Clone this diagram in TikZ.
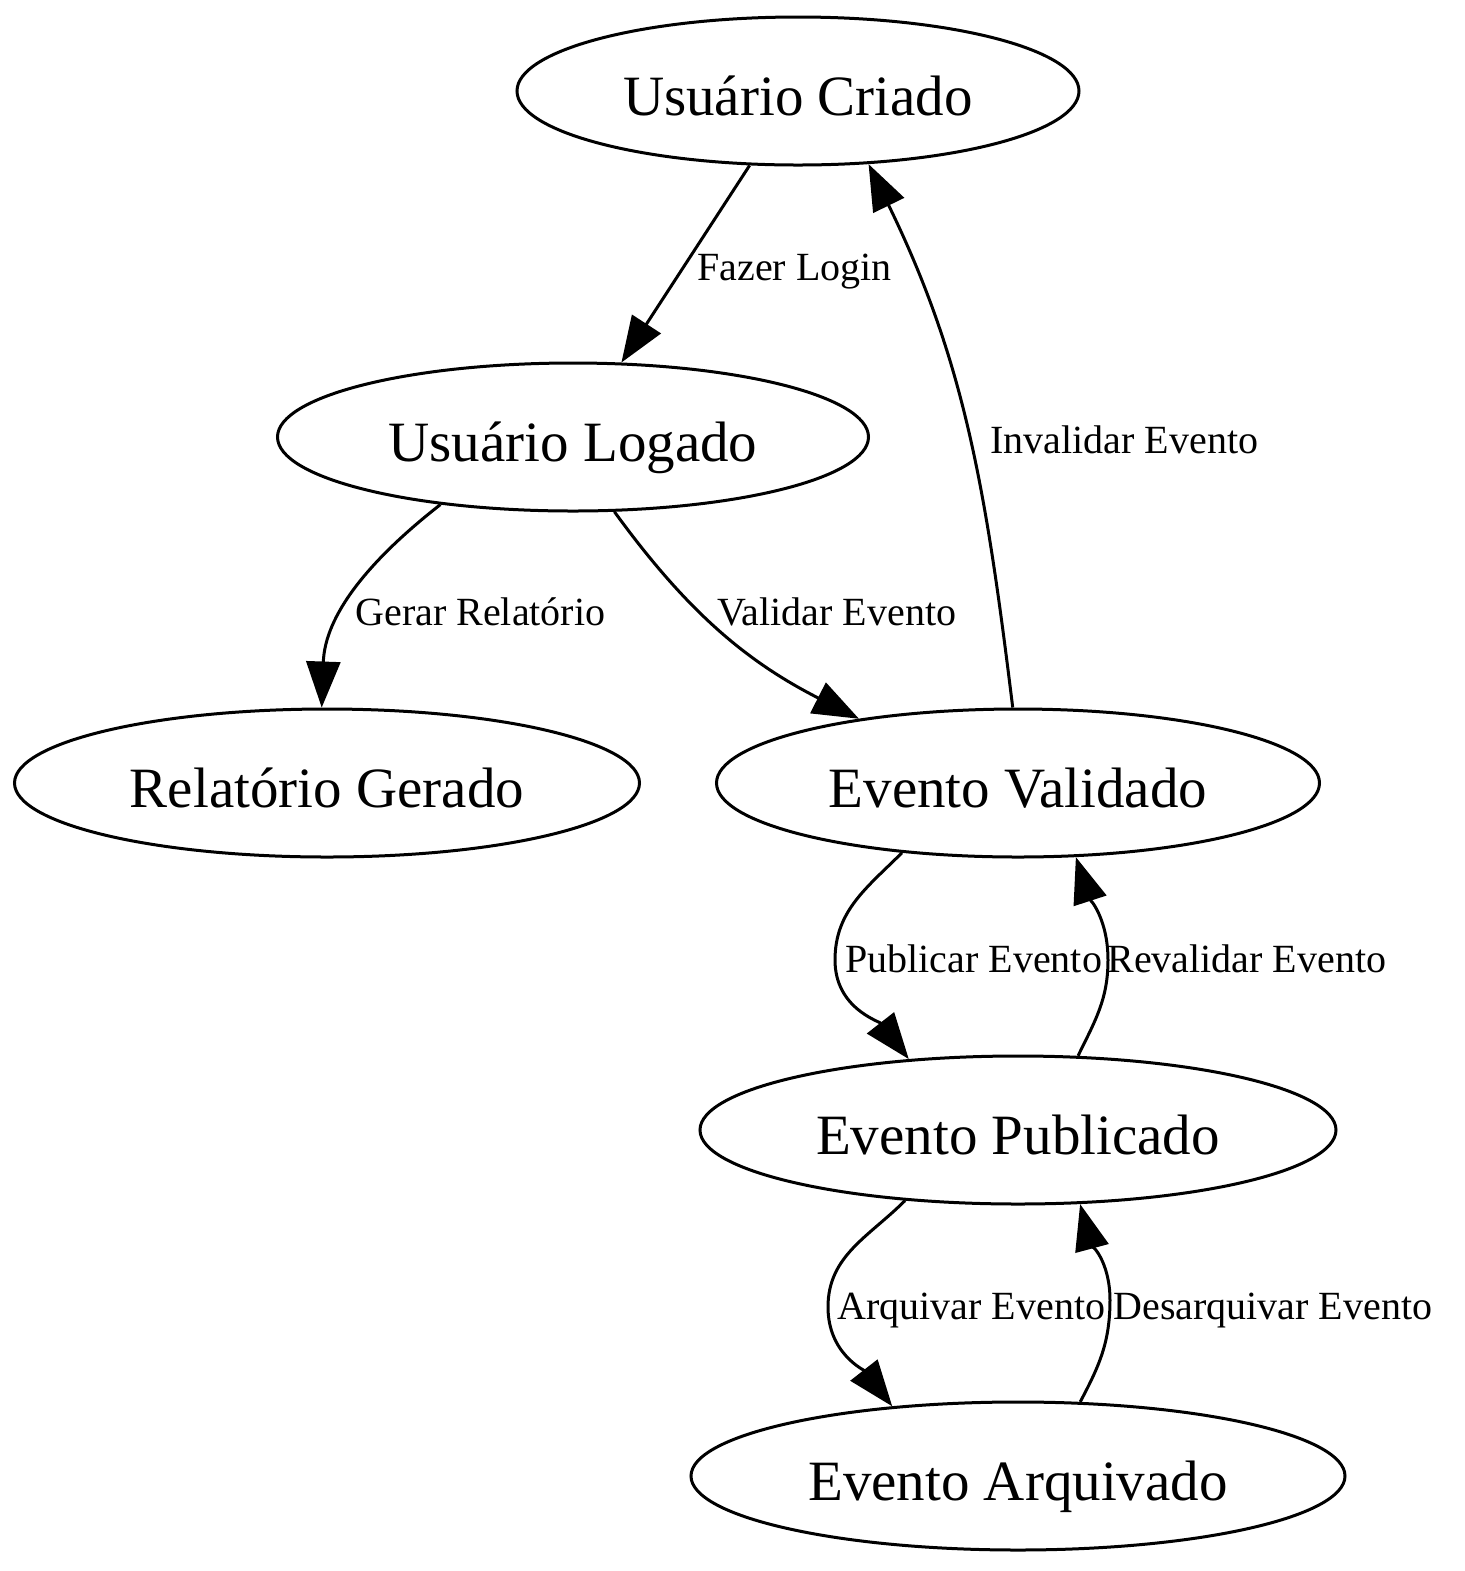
\documentclass[tikz,border=0pt]{standalone}
\usepackage{fontspec}
\setmainfont{Liberation Serif}
\usetikzlibrary{arrows.meta,shapes.geometric}

\begin{document}
\begin{tikzpicture}[x=0.5pt,y=0.5pt,
  state/.style={draw,ellipse,line width=1.5pt,inner sep=0pt,minimum height=74pt,text height=24pt,text depth=0pt,font=\fontsize{28.5}{30}\selectfont},
  lab/.style={anchor=base west,inner sep=0pt,font=\fontsize{20}{22}\selectfont},
  arr/.style={-{Triangle[length=23pt,width=17pt]},line width=1.5pt}]
\useasboundingbox (0,0) rectangle (1465,-1571);
% states
\node[state,minimum width=281pt] (criado) at (798,-91) {Usuário Criado};
\node[state,minimum width=295.5pt] (logado) at (573,-437) {Usuário Logado};
\node[state,minimum width=312.5pt] (relat) at (327,-783) {Relatório Gerado};
\node[state,minimum width=301.5pt] (valid) at (1018,-783) {Evento Validado};
\node[state,minimum width=318pt] (publ) at (1018,-1130) {Evento Publicado};
\node[state,minimum width=327pt] (arq) at (1018,-1476) {Evento Arquivado};
% transitions
\draw[arr] (criado) -- (logado);
\draw[arr] (logado.207) to[out=218,in=88] (relat.94);
\draw[arr] (logado.-61) to[out=-54,in=153] (valid.158);
\draw[arr] (valid.94) to[out=97,in=-64] (criado.-46);
\draw[arr] (valid.211) to[out=225,in=90] (835,-960) to[out=-90,in=128] (publ.147);
\draw[arr] (publ.51) to[out=64,in=-90] (1108,-960) to[out=90,in=-72] (valid.-52);
\draw[arr] (publ.212) to[out=225,in=90] (828,-1307) to[out=-90,in=128] (arq.151);
\draw[arr] (arq.50) to[out=62,in=-90] (1110,-1300) to[out=90,in=-75] (publ.-50);
% labels
\node[lab] (l-login) at (697,-280) {Fazer Login};
\node[lab] (l-relat) at (355,-625) {Gerar Relatório};
\node[lab] (l-valid) at (717,-625) {Validar Evento};
\node[lab] (l-inval) at (990,-453) {Invalidar Evento};
\node[lab] (l-publ) at (845,-972) {Publicar Evento};
\node[lab] (l-reval) at (1107,-972) {Revalidar Evento};
\node[lab] (l-arq) at (837,-1319) {Arquivar Evento};
\node[lab] (l-desarq) at (1113,-1319) {Desarquivar Evento};
\end{tikzpicture}
\end{document}
